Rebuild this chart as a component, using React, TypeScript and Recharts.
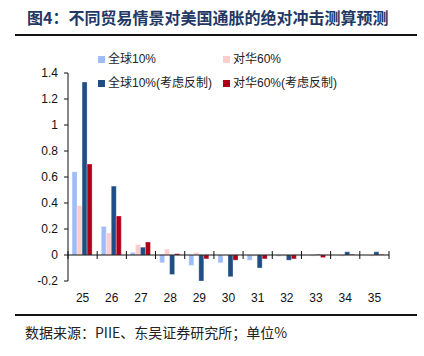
import { Bar, BarChart, ReferenceLine, XAxis, YAxis } from "recharts";

const years = ["25", "26", "27", "28", "29", "30", "31", "32", "33", "34", "35"];
const global10 = [0.64, 0.22, 0.02, -0.06, -0.08, -0.06, -0.04, -0.01, 0, 0, 0];
const china60 = [0.38, 0.17, 0.08, 0.045, 0.02, 0, -0.01, -0.01, -0.01, -0.01, -0.01];
const global10Retal = [1.33, 0.53, 0.06, -0.15, -0.2, -0.167, -0.1, -0.04, 0.005, 0.025, 0.025];
const china60Retal = [0.7, 0.3, 0.1, 0.01, -0.03, -0.04, -0.03, -0.03, -0.02, 0.005, 0.005];
const yTicks = [-0.2, 0, 0.2, 0.4, 0.6, 0.8, 1, 1.2, 1.4];

const series = [
  { key: "g10", name: "全球10%", color: "#9ebcf8" },
  { key: "c60", name: "对华60%", color: "#ffcccc" },
  { key: "g10r", name: "全球10%(考虑反制)", color: "#1f4e84" },
  { key: "c60r", name: "对华60%(考虑反制)", color: "#b00018" },
];

const data = years.map((y, i) => ({
  year: y,
  g10: global10[i],
  c60: china60[i],
  g10r: global10Retal[i],
  c60r: china60Retal[i],
}));

const font = "Arial, 'Liberation Sans', 'Noto Sans CJK SC', sans-serif";

// zero line with tick marks between the categories
function ZeroAxis(props: any) {
  const { x1, x2, y1 } = props;
  const step = (x2 - x1) / years.length;
  return (
    <g>
      <line x1={x1} x2={x2} y1={y1} y2={y1} stroke="#111" strokeWidth={1} />
      {Array.from({ length: years.length + 1 }, (_, i) => (
        <line key={i} x1={x1 + i * step} x2={x1 + i * step} y1={y1 - 4} y2={y1 + 4} stroke="#111" strokeWidth={1} />
      ))}
    </g>
  );
}

function LegendBox() {
  const item = (s: (typeof series)[number], left: number, top: number) => (
    <div key={s.key} style={{ position: "absolute", left, top, display: "flex", alignItems: "center", whiteSpace: "nowrap", height: 16 }}>
      <span style={{ width: 7, height: 7, background: s.color, marginRight: 3, display: "inline-block" }} />
      <span style={{ fontSize: 12, color: "#222", fontFamily: font, lineHeight: "16px" }}>{s.name}</span>
    </div>
  );
  return (
    <div style={{ position: "absolute", left: 98, top: 51, width: 300, height: 40 }}>
      {item(series[0], 0, 0)}
      {item(series[1], 125, 0)}
      {item(series[2], 0, 24)}
      {item(series[3], 125, 24)}
    </div>
  );
}

export default function App() {
  return (
    <div style={{ position: "absolute", left: 0, top: 0, width: 424, height: 356, background: "#fff", fontFamily: font }}>
      <div
        style={{
          position: "absolute",
          left: 27,
          top: 6,
          fontSize: 16,
          fontWeight: 700,
          color: "#1f3864",
          fontFamily: "'Noto Sans CJK SC', sans-serif",
          lineHeight: "22px",
          whiteSpace: "nowrap",
        }}
      >
        图4：不同贸易情景对美国通胀的绝对冲击测算预测
      </div>
      <div style={{ position: "absolute", left: 15, top: 34, width: 402, height: 2, background: "#111" }} />
      <div style={{ position: "absolute", left: 0, top: 0 }}>
        <BarChart
          width={424}
          height={356}
          data={data}
          margin={{ top: 73, right: 35, bottom: 45, left: 0 }}
          barCategoryGap="14%"
          barGap={0}
        >
          <XAxis dataKey="year" axisLine={false} tickLine={false} height={30} tickMargin={6} tick={{ fontSize: 12, fill: "#111" }} />
          <YAxis
            domain={[-0.2, 1.4]}
            ticks={yTicks}
            interval={0}
            width={68}
            tickSize={4}
            tickMargin={6}
            tick={{ fontSize: 12, fill: "#111" }}
            axisLine={{ stroke: "#111" }}
            tickLine={{ stroke: "#111" }}
          />
          {series.map((s) => (
            <Bar key={s.key} dataKey={s.key} name={s.name} fill={s.color} stroke="#fff" strokeWidth={0.3} isAnimationActive={false} />
          ))}
          <ReferenceLine y={0} shape={(p: any) => <ZeroAxis {...p} />} />
        </BarChart>
      </div>
      <LegendBox />
      <div style={{ position: "absolute", left: 15, top: 314, width: 402, height: 1.5, background: "#111" }} />
      <div
        style={{
          position: "absolute",
          left: 25,
          top: 322,
          fontSize: 14,
          color: "#222",
          fontFamily: "'Noto Sans CJK SC', serif",
          lineHeight: "20px",
          whiteSpace: "nowrap",
        }}
      >
        数据来源：PIIE、东吴证券研究所；单位%
      </div>
    </div>
  );
}
